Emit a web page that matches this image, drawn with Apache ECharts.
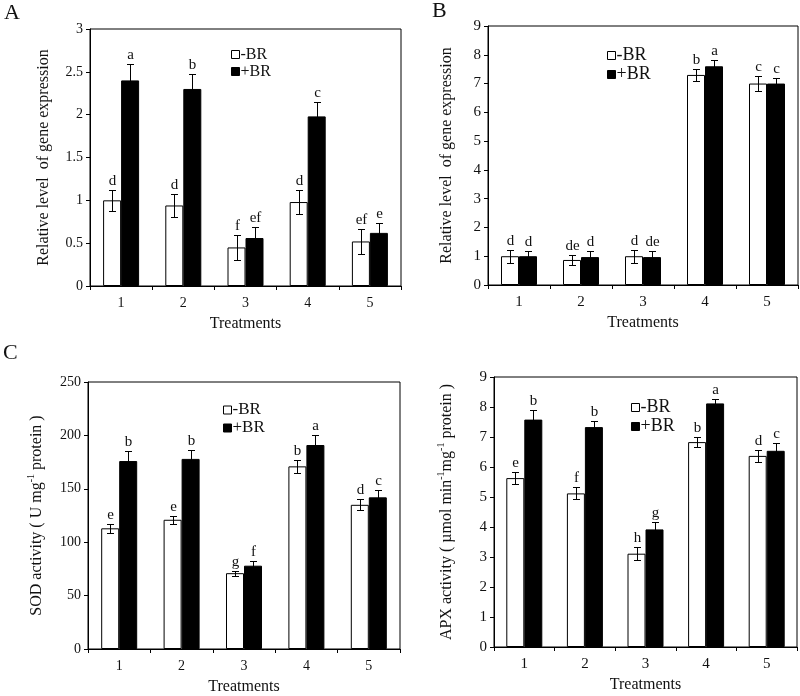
<!DOCTYPE html>
<html>
<head>
<meta charset="utf-8">
<script src="https://cdn.jsdelivr.net/npm/echarts@6/dist/echarts.min.js"></script>
<style>
html,body{margin:0;padding:0;background:#fff;}
#chart{width:800px;height:696px;}
</style>
</head>
<body>
<div id="chart"></div>
<script>
// ---------- data ----------
const categories = ['1', '2', '3', '4', '5'];
const seriesNames = ['-BR', '+BR'];

// Panel A: relative gene expression
const aMinus = [1.0, 0.94, 0.45, 0.98, 0.52];
const aMinusErr = [0.12, 0.13, 0.15, 0.14, 0.15];
const aPlus = [2.4, 2.3, 0.56, 1.98, 0.62];
const aPlusErr = [0.19, 0.17, 0.13, 0.17, 0.12];
const aMinusLetters = ['d', 'd', 'f', 'd', 'ef'];
const aPlusLetters = ['a', 'b', 'ef', 'c', 'e'];

// Panel B: relative gene expression
const bMinus = [1.0, 0.87, 1.0, 7.3, 7.0];
const bMinusErr = [0.22, 0.17, 0.22, 0.22, 0.25];
const bPlus = [1.0, 0.97, 0.97, 7.6, 7.0];
const bPlusErr = [0.18, 0.2, 0.2, 0.21, 0.21];
const bMinusLetters = ['d', 'de', 'd', 'b', 'c'];
const bPlusLetters = ['d', 'd', 'de', 'a', 'c'];

// Panel C: SOD activity
const cMinus = [113, 121, 71, 171, 135];
const cMinusErr = [4, 4, 2.5, 6, 5];
const cPlus = [176, 178, 78, 191, 142];
const cPlusErr = [9, 8, 4, 9, 7];
const cMinusLetters = ['e', 'e', 'g', 'b', 'd'];
const cPlusLetters = ['b', 'b', 'f', 'a', 'c'];

// Panel D: APX activity
const dMinus = [5.63, 5.12, 3.11, 6.83, 6.37];
const dMinusErr = [0.2, 0.2, 0.22, 0.17, 0.21];
const dPlus = [7.58, 7.33, 3.92, 8.12, 6.54];
const dPlusErr = [0.33, 0.2, 0.25, 0.16, 0.26];
const dMinusLetters = ['e', 'f', 'h', 'b', 'd'];
const dPlusLetters = ['b', 'b', 'g', 'a', 'c'];

// Axis settings
const yMax = [3, 9, 250, 9];
const yInterval = [0.5, 1, 50, 1];
const yNames = [
  'Relative level  of gene expression',
  'Relative level  of gene expression',
  'SOD activity ( U mg{sup|-1} protein )',
  'APX activity ( µmol min{sup|-1}mg{sup|-1} protein )'
];
const xName = 'Treatments';
const panelLetters = ['A', 'B', 'C'];

// ---------- layout ----------
const FONT = "'Liberation Serif','Times New Roman',serif";
const BAR_W = 18;
const grids = [
  {left: 90, top: 29, width: 311, height: 257},
  {left: 488, top: 26, width: 310, height: 259},
  {left: 88, top: 382, width: 312, height: 271},
  {left: 494, top: 377, width: 303, height: 270}
];
const tickFont = [14, 15, 14, 15];
const yNameGap = [38, 33, 40, 36];
const legendPos = [
  {left: 226, top: 41, fontSize: 16},
  {left: 602, top: 41, fontSize: 18},
  {left: 218, top: 396, fontSize: 17},
  {left: 626, top: 393, fontSize: 18}
];

const panels = [
  [aMinus, aMinusErr, aPlus, aPlusErr, aMinusLetters, aPlusLetters],
  [bMinus, bMinusErr, bPlus, bPlusErr, bMinusLetters, bPlusLetters],
  [cMinus, cMinusErr, cPlus, cPlusErr, cMinusLetters, cPlusLetters],
  [dMinus, dMinusErr, dPlus, dPlusErr, dMinusLetters, dPlusLetters]
];

const xAxes = [], yAxes = [], series = [], legends = [];

function errSeries(gi, vals, errs, letters, side) {
  return {
    type: 'custom',
    xAxisIndex: gi, yAxisIndex: gi,
    z: 10,
    silent: true,
    data: vals.map((v, i) => [i, v, errs[i]]),
    renderItem: function (params, api) {
      const ci = api.value(0), v = api.value(1), e = api.value(2);
      const top = api.coord([ci, v + e]);
      const bot = api.coord([ci, v - e]);
      const x = Math.round(top[0] + side * BAR_W / 2) + 0.5;
      const yt = Math.round(top[1]) + 0.5, yb = Math.round(bot[1]) + 0.5;
      const cap = 3.5;
      const ls = {stroke: '#000', lineWidth: 1};
      return {
        type: 'group',
        children: [
          {type: 'line', shape: {x1: x, y1: yt, x2: x, y2: yb}, style: ls},
          {type: 'line', shape: {x1: x - cap, y1: yt, x2: x + cap, y2: yt}, style: ls},
          {type: 'line', shape: {x1: x - cap, y1: yb, x2: x + cap, y2: yb}, style: ls},
          {type: 'text', x: x, y: yt - 2, style: {
            text: letters[params.dataIndex], fill: '#111',
            font: '15px ' + FONT, align: 'center', verticalAlign: 'bottom'
          }}
        ]
      };
    }
  };
}

panels.forEach((p, gi) => {
  const [mv, me, pv, pe, ml, pl] = p;
  xAxes.push({
    type: 'category', gridIndex: gi, data: categories,
    name: xName, nameLocation: 'middle', nameGap: 30,
    nameTextStyle: {fontFamily: FONT, fontSize: 16, color: '#111'},
    axisLine: {lineStyle: {color: '#000', width: 1}},
    axisTick: {show: true, length: 4, lineStyle: {color: '#000'}},
    axisLabel: {fontFamily: FONT, fontSize: tickFont[gi], color: '#111', margin: 10}
  });
  yAxes.push({
    type: 'value', gridIndex: gi, min: 0, max: yMax[gi], interval: yInterval[gi],
    name: yNames[gi], nameLocation: 'middle', nameGap: yNameGap[gi], nameRotate: 90,
    nameTextStyle: {fontFamily: FONT, fontSize: 16, color: '#111',
      rich: {sup: {fontFamily: FONT, fontSize: 10, color: '#111', padding: [0, 0, 12, 0]}}},
    axisLine: {show: true, lineStyle: {color: '#000', width: 1}},
    axisTick: {show: true, length: 4, lineStyle: {color: '#000'}},
    splitLine: {show: false},
    axisLabel: {fontFamily: FONT, fontSize: tickFont[gi], color: '#111', margin: 7}
  });
  series.push({
    name: '-BR', type: 'bar', xAxisIndex: gi, yAxisIndex: gi, data: mv,
    barWidth: BAR_W, barGap: '0%',
    itemStyle: {color: '#fff', borderColor: '#000', borderWidth: 1}
  });
  series.push({
    name: '+BR', type: 'bar', xAxisIndex: gi, yAxisIndex: gi, data: pv,
    barWidth: BAR_W, barGap: '0%',
    itemStyle: {color: '#000', borderColor: '#000', borderWidth: 1}
  });
  series.push(errSeries(gi, mv, me, ml, -1));
  series.push(errSeries(gi, pv, pe, pl, 1));
  const lp = legendPos[gi];
  legends.push({
    left: lp.left, top: lp.top, orient: 'vertical', itemGap: 0,
    itemWidth: 8, itemHeight: 8, icon: 'rect', selectedMode: false,
    data: [
      {name: '-BR', itemStyle: {color: '#fff', borderColor: '#000', borderWidth: 1}},
      {name: '+BR', itemStyle: {color: '#000', borderColor: '#000', borderWidth: 1}}
    ],
    textStyle: {fontFamily: FONT, fontSize: lp.fontSize, color: '#111',
      lineHeight: lp.fontSize + 1, padding: [0, 0, 0, -4]}
  });
});

const letterPos = [{left: 4, top: 2}, {left: 432, top: 0}, {left: 3, top: 342}];
const graphics = panelLetters.map((t, i) => ({
  type: 'text', left: letterPos[i].left, top: letterPos[i].top,
  style: {text: t, font: '22px ' + FONT, fill: '#111'}
}));

const chart = echarts.init(document.getElementById('chart'), null, {renderer: 'canvas'});
chart.setOption({
  animation: false,
  backgroundColor: '#fff',
  grid: grids.map(g => Object.assign({show: true, borderColor: '#000', borderWidth: 1,
    backgroundColor: 'transparent'}, g)),
  xAxis: xAxes,
  yAxis: yAxes,
  legend: legends,
  graphic: graphics,
  series: series
});
</script>
</body>
</html>
